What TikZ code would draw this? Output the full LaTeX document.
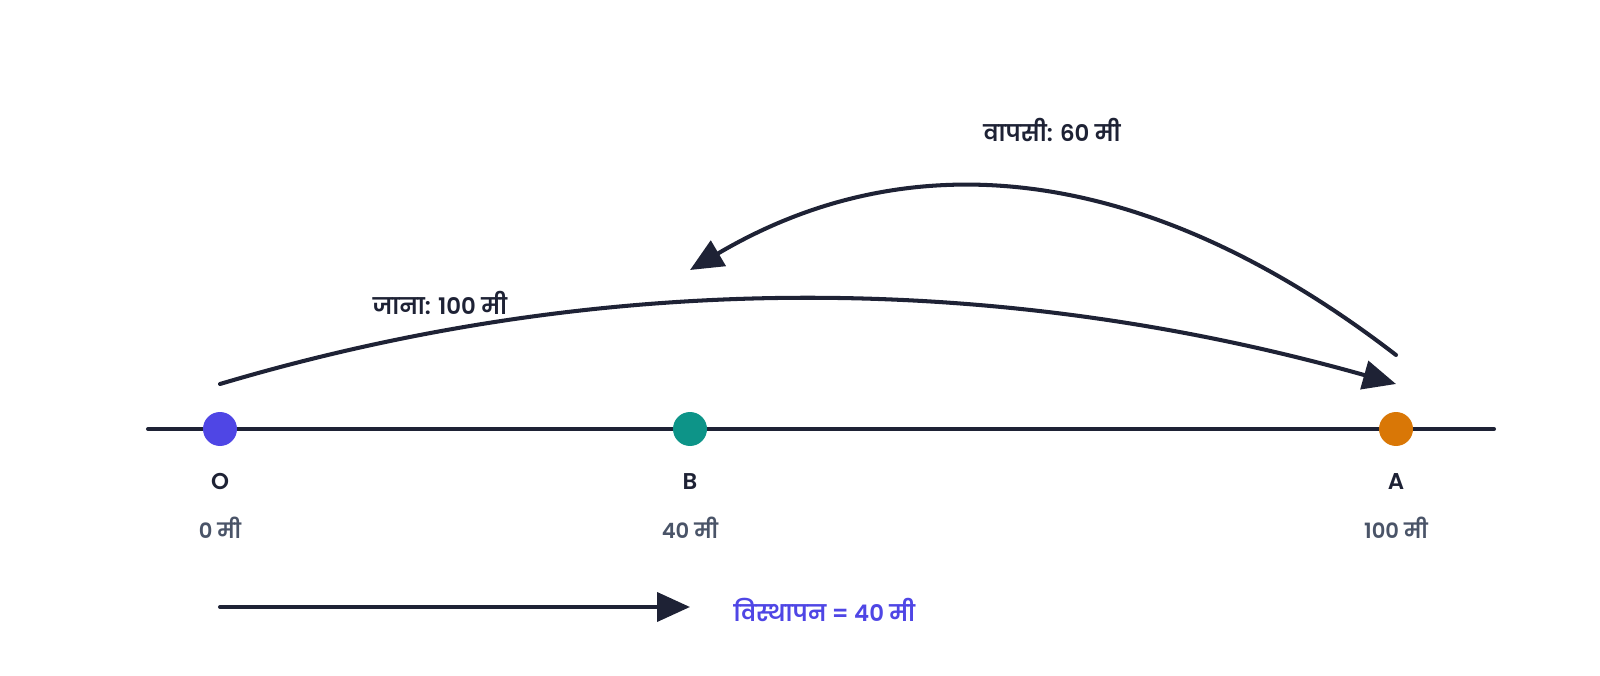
\documentclass[tikz,border=0pt]{standalone}
\usepackage{fontspec}
\setmainfont{Poppins}[Script=Devanagari, BoldFont={Poppins SemiBold}]
\usepackage{xcolor}
\usetikzlibrary{arrows.meta,positioning}

\definecolor{ink}{HTML}{1E2235}
\definecolor{muted}{HTML}{4A5468}
\definecolor{originblue}{HTML}{4F46E5}
\definecolor{turnteal}{HTML}{0D9488}
\definecolor{farorange}{HTML}{D97706}

\begin{document}
\begin{tikzpicture}[
    node distance=0.6cm,
    dot/.style={circle, inner sep=0pt, minimum size=0.68cm},
    ptlabel/.style={font=\fontsize{13}{15}\selectfont\bfseries, text=ink},
    dist/.style={font=\fontsize{12}{14}\selectfont\bfseries, text=muted},
    arrow/.style={-{Triangle[length=0.66cm, width=0.58cm]}, ink, line width=2.3pt, line cap=round}
]
\useasboundingbox (0,0) rectangle (32,13.5);

% number line
\coordinate (left end) at (2.96,4.92);
\coordinate (right end) at (29.88,4.92);
\draw[ink, line width=2.3pt, line cap=round] (left end) -- (right end);

\node[dot, fill=originblue] (O) at (4.4,4.92) {};
\node[dot, fill=turnteal] (B) at (13.8,4.92) {};
\node[dot, fill=farorange] (A) at (27.92,4.92) {};

\node[ptlabel, below=0.42cm of O] (Olabel) {O};
\node[ptlabel, below=0.42cm of B] (Blabel) {B};
\node[ptlabel, below=0.42cm of A] (Alabel) {A};

\node[dist, below=0.3cm of Olabel] (Odist) {0 मी};
\node[dist, below=0.3cm of Blabel] (Bdist) {40 मी};
\node[dist, below=0.3cm of Alabel] (Adist) {100 मी};

% going O -> A
\coordinate (go start) at (4.4,5.82);
\coordinate (go end) at (27.92,5.82);
\draw[arrow] (go start) .. controls (12.03,8.09) and (19.87,8.09) .. (go end);
\node[ptlabel] (golabel) at (8.8,7.44) {जाना: 100 मी};

% coming back A -> B
\coordinate (back start) at (27.92,6.4);
\coordinate (back end) at (13.8,8.1);
\draw[arrow] (back start) .. controls (23.0,10.19) and (18.29,10.75) .. (back end);
\node[ptlabel] (backlabel) at (21.04,10.9) {वापसी: 60 मी};

% displacement
\coordinate (disp start) at (4.4,1.36);
\coordinate (disp end) at (13.8,1.36);
\draw[arrow] (disp start) -- (disp end);
\node[ptlabel, text=originblue, anchor=west] (displabel) at (14.55,1.3) {विस्थापन = 40 मी};

\end{tikzpicture}
\end{document}
